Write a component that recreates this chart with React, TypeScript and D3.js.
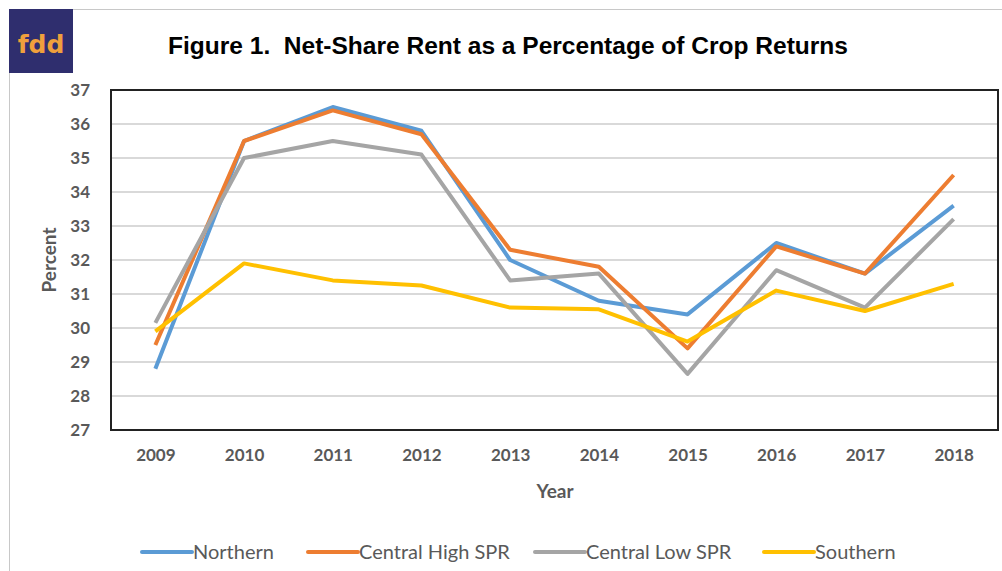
import React, { useRef, useEffect } from 'react';
import * as d3 from 'd3';

const years = ['2009', '2010', '2011', '2012', '2013', '2014', '2015', '2016', '2017', '2018'];
const northern = [28.8, 35.5, 36.5, 35.8, 32.0, 30.8, 30.4, 32.5, 31.6, 33.6];
const centralHigh = [29.5, 35.5, 36.4, 35.7, 32.3, 31.8, 29.4, 32.4, 31.6, 34.5];
const centralLow = [30.15, 35.0, 35.5, 35.1, 31.4, 31.6, 28.65, 31.7, 30.6, 33.2];
const southern = [29.9, 31.9, 31.4, 31.25, 30.6, 30.55, 29.6, 31.1, 30.5, 31.3];
const yTicks = [27, 28, 29, 30, 31, 32, 33, 34, 35, 36, 37];

const series = [
  { name: 'Northern', values: northern, color: '#5b9bd5' },
  { name: 'Central High SPR', values: centralHigh, color: '#ed7d31' },
  { name: 'Central Low SPR', values: centralLow, color: '#a5a5a5' },
  { name: 'Southern', values: southern, color: '#ffc000' },
];

const App = () => {
  const svgRef = useRef<SVGSVGElement>(null);

  useEffect(() => {
    const width = 1002;
    const height = 571;
    const plot = { left: 111, right: 998, top: 90, bottom: 430 };

    const svg = d3.select(svgRef.current)
      .attr('width', width)
      .attr('height', height);
    svg.selectAll('*').remove();

    const font = 'Lato, "Open Sans", sans-serif';

    // outer frame
    svg.append('line').attr('x1', 9).attr('x2', width).attr('y1', 9.5).attr('y2', 9.5)
      .attr('stroke', '#c8c8c8').attr('stroke-width', 1);
    svg.append('line').attr('x1', 9.5).attr('x2', 9.5).attr('y1', 9).attr('y2', height)
      .attr('stroke', '#c8c8c8').attr('stroke-width', 1);

    // logo
    svg.append('rect').attr('x', 9).attr('y', 9).attr('width', 64).attr('height', 64)
      .attr('fill', '#2f2e6e');
    svg.append('text').attr('x', 41).attr('y', 53).attr('text-anchor', 'middle')
      .attr('font-family', '"DejaVu Sans", sans-serif').attr('font-weight', 'bold')
      .attr('font-size', 25).attr('fill', '#f0a03c').text('fdd');

    // title
    svg.append('text').attr('x', 168).attr('y', 54)
      .attr('font-family', '"Liberation Sans", Arial, sans-serif').attr('font-weight', 'bold')
      .attr('font-size', 23).attr('fill', '#000')
      .attr('textLength', 680).attr('lengthAdjust', 'spacingAndGlyphs')
      .attr('xml:space', 'preserve')
      .text('Figure 1.  Net-Share Rent as a Percentage of Crop Returns');

    const x = d3.scalePoint<string>()
      .domain(years)
      .range([plot.left, plot.right])
      .padding(0.5);

    const y = d3.scaleLinear()
      .domain([27, 37])
      .range([plot.bottom, plot.top]);

    // gridlines
    svg.append('g')
      .selectAll('line')
      .data(yTicks.slice(1, -1))
      .enter()
      .append('line')
      .attr('x1', plot.left).attr('x2', plot.right)
      .attr('y1', d => y(d)).attr('y2', d => y(d))
      .attr('stroke', '#d9d9d9').attr('stroke-width', 2);

    // y axis labels
    const yAxis = svg.append('g')
      .attr('transform', `translate(${plot.left - 18},0)`)
      .call(d3.axisLeft(y).tickValues(yTicks).tickSize(0).tickFormat(d3.format('d')));
    yAxis.select('.domain').remove();
    yAxis.selectAll('text')
      .attr('font-family', font).attr('font-weight', 'bold')
      .attr('font-size', 17).attr('fill', '#595959');

    // x axis labels
    const xAxis = svg.append('g')
      .attr('transform', `translate(0,${plot.bottom + 16})`)
      .call(d3.axisBottom(x).tickSize(0));
    xAxis.select('.domain').remove();
    xAxis.selectAll('text')
      .attr('font-family', font).attr('font-weight', 'bold')
      .attr('font-size', 17).attr('fill', '#595959');

    // axis titles
    svg.append('text').attr('x', 555).attr('y', 498).attr('text-anchor', 'middle')
      .attr('font-family', font).attr('font-weight', 'bold')
      .attr('font-size', 19).attr('fill', '#595959').text('Year');
    svg.append('text')
      .attr('transform', `translate(56,${(plot.top + plot.bottom) / 2}) rotate(-90)`)
      .attr('text-anchor', 'middle')
      .attr('font-family', font).attr('font-weight', 'bold')
      .attr('font-size', 19).attr('fill', '#595959').text('Percent');

    // lines
    const line = d3.line<number>()
      .x((d, i) => x(years[i]) as number)
      .y(d => y(d));

    svg.append('g')
      .selectAll('path')
      .data(series)
      .enter()
      .append('path')
      .attr('d', d => line(d.values))
      .attr('fill', 'none')
      .attr('stroke', d => d.color)
      .attr('stroke-width', 4)
      .attr('stroke-linejoin', 'round');

    // plot border
    svg.append('rect')
      .attr('x', plot.left).attr('y', plot.top)
      .attr('width', plot.right - plot.left).attr('height', plot.bottom - plot.top)
      .attr('fill', 'none').attr('stroke', '#222').attr('stroke-width', 2);

    // legend
    const legendX = [142, 308, 535, 764];
    const legend = svg.append('g')
      .selectAll('g')
      .data(series)
      .enter()
      .append('g')
      .attr('transform', (d, i) => `translate(${legendX[i]},552)`);
    legend.append('line')
      .attr('x1', 0).attr('x2', 50).attr('y1', 0).attr('y2', 0)
      .attr('stroke', d => d.color).attr('stroke-width', 4)
      .attr('stroke-linecap', 'round');
    legend.append('text')
      .attr('x', 51).attr('y', 7)
      .attr('font-family', font)
      .attr('font-size', 20).attr('fill', '#595959')
      .text(d => d.name);
  }, []);

  return <svg ref={svgRef} style={{ position: 'absolute', left: 0, top: 0 }}></svg>;
};

export default App;
